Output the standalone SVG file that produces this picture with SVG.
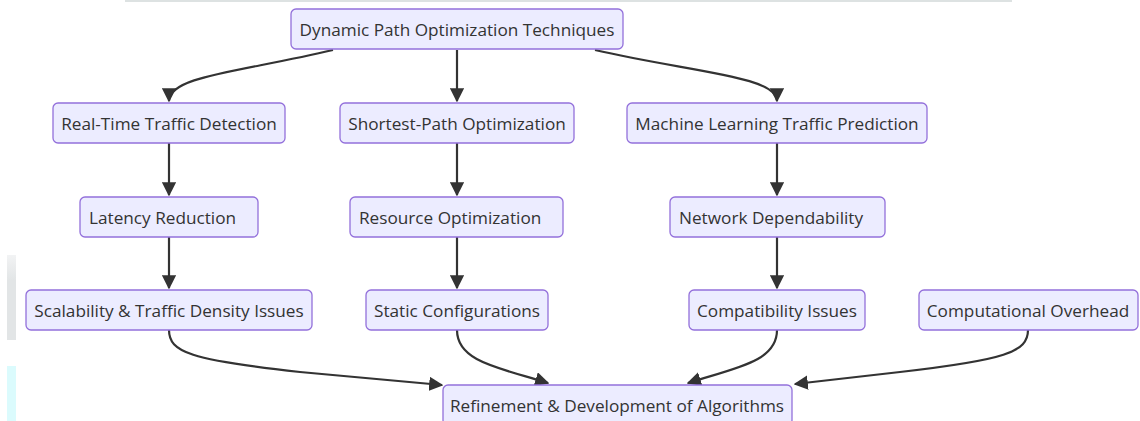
<svg xmlns="http://www.w3.org/2000/svg" width="1140" height="421" viewBox="0 0 1140 421">
<defs>
<style>
.node rect{fill:#ECECFF;stroke:#9370DB;stroke-width:1.3;}
.node text{font-family:"Open Sans","Noto Sans","DejaVu Sans",sans-serif;font-size:17.2px;fill:#333;dominant-baseline:central;}
.edge{fill:none;stroke:#333;stroke-width:2.2;}
</style>
<marker id="arr" viewBox="0 0 10 10" refX="9" refY="5" markerWidth="6.5" markerHeight="6.5" markerUnits="strokeWidth" orient="auto">
<path d="M0,0 L10,5 L0,10 z" fill="#333"/>
</marker>
<linearGradient id="gb" x1="0" y1="0" x2="0" y2="1">
<stop offset="0" stop-color="#f2f3f4"/><stop offset="0.3" stop-color="#e2e5e6"/><stop offset="1" stop-color="#e2e5e6"/>
</linearGradient>
</defs>
<rect width="1140" height="421" fill="#fff"/>
<line x1="125" y1="1" x2="1012" y2="1" stroke="#dde2e2" stroke-width="2"/>
<rect x="7" y="255" width="9" height="85" fill="url(#gb)"/>
<rect x="7" y="366" width="9" height="55" fill="#dbfbfd"/>
<g id="connectors">
<path class="edge" d="M333,50 C240,72 169,76 169,101" marker-end="url(#arr)"/>
<path class="edge" d="M457,50 L457,101" marker-end="url(#arr)"/>
<path class="edge" d="M595,50 C690,72 777,76 777,101" marker-end="url(#arr)"/>
<path class="edge" d="M169,143 L169,195" marker-end="url(#arr)"/>
<path class="edge" d="M457,143 L457,195" marker-end="url(#arr)"/>
<path class="edge" d="M777,143 L777,195" marker-end="url(#arr)"/>
<path class="edge" d="M169,237 L169,288" marker-end="url(#arr)"/>
<path class="edge" d="M457,237 L457,288" marker-end="url(#arr)"/>
<path class="edge" d="M777,237 L777,288" marker-end="url(#arr)"/>
<path class="edge" d="M169,330 C169,352 190,360 300,372 L442,385" marker-end="url(#arr)"/>
<path class="edge" d="M457,330 C457,362 500,368 548,383" marker-end="url(#arr)"/>
<path class="edge" d="M777,330 C777,362 735,368 688,383" marker-end="url(#arr)"/>
<path class="edge" d="M1028,330 C1028,352 1005,360 900,372 L795,384" marker-end="url(#arr)"/>
</g>
<g id="n-top" class="node"><rect x="291" y="9" width="332" height="40" rx="5"/><text x="457" y="29" text-anchor="middle">Dynamic Path Optimization Techniques</text></g>
<g id="n-rttd" class="node"><rect x="53" y="103" width="232" height="40" rx="5"/><text x="169" y="123" text-anchor="middle">Real-Time Traffic Detection</text></g>
<g id="n-spo" class="node"><rect x="340" y="103" width="234" height="40" rx="5"/><text x="457" y="123" text-anchor="middle">Shortest-Path Optimization</text></g>
<g id="n-mltp" class="node"><rect x="627" y="103" width="300" height="40" rx="5"/><text x="777" y="123" text-anchor="middle">Machine Learning Traffic Prediction</text></g>
<g id="n-lr" class="node"><rect x="80" y="197" width="178" height="40" rx="5"/><text x="89" y="217">Latency Reduction</text></g>
<g id="n-ro" class="node"><rect x="350" y="197" width="213" height="40" rx="5"/><text x="359" y="217">Resource Optimization</text></g>
<g id="n-nd" class="node"><rect x="670" y="197" width="215" height="40" rx="5"/><text x="679" y="217">Network Dependability</text></g>
<g id="n-sc" class="node"><rect x="26" y="290" width="286" height="40" rx="5"/><text x="169" y="310" text-anchor="middle">Scalability &amp; Traffic Density Issues</text></g>
<g id="n-stc" class="node"><rect x="366" y="290" width="182" height="40" rx="5"/><text x="457" y="310" text-anchor="middle">Static Configurations</text></g>
<g id="n-ci" class="node"><rect x="689" y="290" width="176" height="40" rx="5"/><text x="777" y="310" text-anchor="middle">Compatibility Issues</text></g>
<g id="n-co" class="node"><rect x="919" y="290" width="219" height="40" rx="5"/><text x="1028" y="310" text-anchor="middle">Computational Overhead</text></g>
<g id="n-rda" class="node"><rect x="443" y="385" width="349" height="40" rx="5"/><text x="617" y="405" text-anchor="middle">Refinement &amp; Development of Algorithms</text></g>
</svg>
